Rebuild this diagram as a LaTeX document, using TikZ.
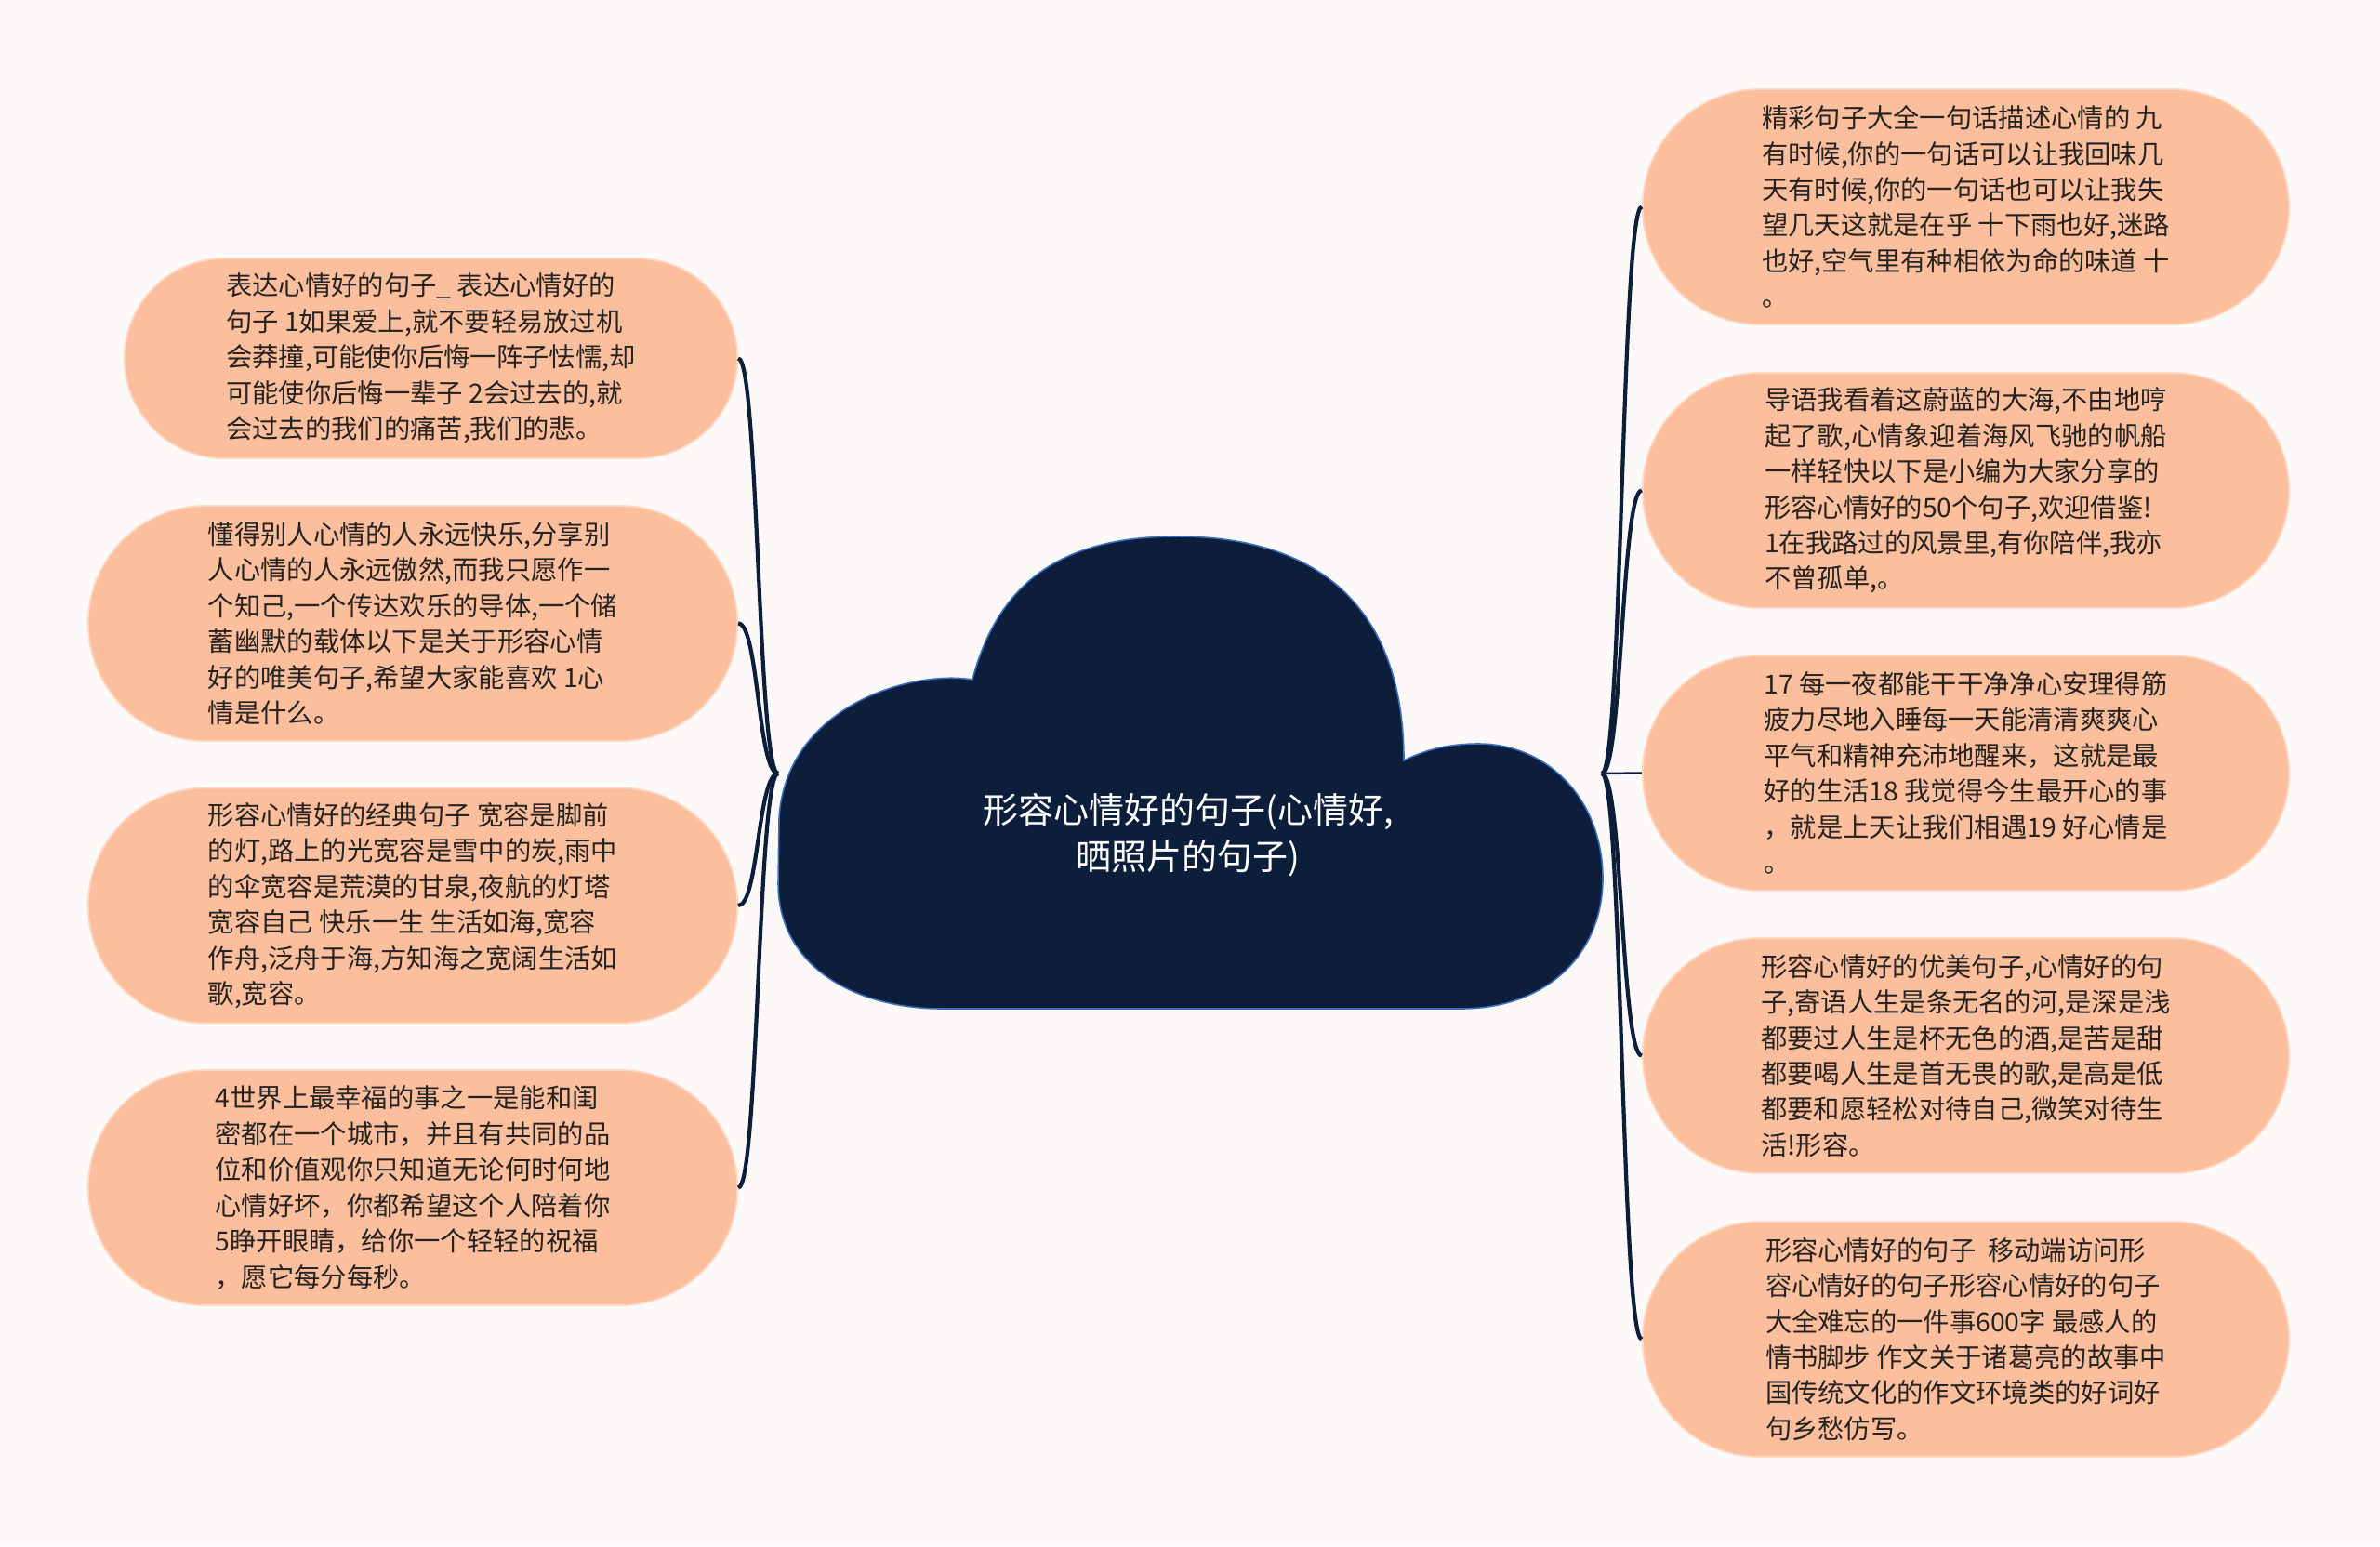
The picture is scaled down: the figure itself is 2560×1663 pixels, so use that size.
\documentclass[tikz,border=0pt]{standalone}
\usepackage{fontspec}
\setmainfont{Noto Sans CJK SC}
\usetikzlibrary{shapes.misc}
\definecolor{bgc}{HTML}{FDF9F8}
\definecolor{peach}{HTML}{FCBF9D}
\definecolor{navy}{HTML}{0C1E3A}
\definecolor{cloudedge}{HTML}{3B6FC0}
\definecolor{txt}{HTML}{262220}
\begin{document}
\begin{tikzpicture}[x=0.01cm,y=-0.01cm,
  leaf/.style={rounded rectangle, fill=peach, draw=peach!60!white, line width=0.5pt,
    inner sep=0pt, align=left, text=txt,
    font=\fontsize{8.05pt}{10.93pt}\selectfont},
  lbox/.style={leaf, minimum width=6.98cm, minimum height=2.53cm},
  rbox/.style={leaf, minimum width=6.95cm, minimum height=2.53cm},
  link/.style={draw=navy, line width=1.2pt},
  ctext/.style={align=center, text=white, font=\fontsize{10.8pt}{14.4pt}\selectfont}]
\fill[bgc] (0,0) rectangle (2560,1663);
\useasboundingbox (0,0) rectangle (2560,1663);

% cloud
\path[fill=navy, draw=cloudedge, line width=0.45pt]
  (1046,731) .. controls (980,720) and (845,760) .. (838,880)
  -- (837,950) .. controls (837,1040) and (920,1085) .. (1014,1085)
  -- (1571,1085) .. controls (1665,1085) and (1724,1025) .. (1724,945)
  .. controls (1724,860) and (1665,800) .. (1590,800)
  .. controls (1555,800) and (1530,808) .. (1510,818)
  .. controls (1510,655) and (1420,577) .. (1266,577)
  .. controls (1150,577) and (1075,620) .. (1046,731) -- cycle;
\node[ctext] (center) at (1278,898) {形容心情好的句子(心情好,\\晒照片的句子)};
\coordinate (rootL) at (837,832);
\coordinate (rootR) at (1723,832);

% left boxes
\node[leaf, minimum width=6.59cm, minimum height=2.15cm] (L1) at (463.5,385.5) {%
表达心情好的句子\_ 表达心情好的\\
句子 1如果爱上,就不要轻易放过机\\
会莽撞,可能使你后悔一阵子怯懦,却\\
可能使你后悔一辈子 2会过去的,就\\
会过去的我们的痛苦,我们的悲。};
\node[lbox] (L2) at (444,670.5) {%
懂得别人心情的人永远快乐,分享别\\
人心情的人永远傲然,而我只愿作一\\
个知己,一个传达欢乐的导体,一个储\\
蓄幽默的载体以下是关于形容心情\\
好的唯美句子,希望大家能喜欢 1心\\
情是什么。};
\node[lbox] (L3) at (444,974) {%
形容心情好的经典句子 宽容是脚前\\
的灯,路上的光宽容是雪中的炭,雨中\\
的伞宽容是荒漠的甘泉,夜航的灯塔\\
宽容自己 快乐一生 生活如海,宽容\\
作舟,泛舟于海,方知海之宽阔生活如\\
歌,宽容。};
\node[lbox] (L4) at (444,1277.5) {%
4世界上最幸福的事之一是能和闺\\
密都在一个城市，并且有共同的品\\
位和价值观你只知道无论何时何地\\
心情好坏，你都希望这个人陪着你\\
5睁开眼睛，给你一个轻轻的祝福\\
，愿它每分每秒。};

% right boxes
\node[rbox] (R1) at (2114.5,222.5) {%
精彩句子大全一句话描述心情的 九\\
有时候,你的一句话可以让我回味几\\
天有时候,你的一句话也可以让我失\\
望几天这就是在乎 十下雨也好,迷路\\
也好,空气里有种相依为命的味道 十\\
。};
\node[rbox] (R2) at (2114.5,527.5) {%
导语我看着这蔚蓝的大海,不由地哼\\
起了歌,心情象迎着海风飞驰的帆船\\
一样轻快以下是小编为大家分享的\\
形容心情好的50个句子,欢迎借鉴!\\
1在我路过的风景里,有你陪伴,我亦\\
不曾孤单,。};
\node[rbox] (R3) at (2114.5,831.5) {%
17 每一夜都能干干净净心安理得筋\\
疲力尽地入睡每一天能清清爽爽心\\
平气和精神充沛地醒来，这就是最\\
好的生活18 我觉得今生最开心的事\\
，就是上天让我们相遇19 好心情是\\
。};
\node[rbox] (R4) at (2114.5,1135.5) {%
形容心情好的优美句子,心情好的句\\
子,寄语人生是条无名的河,是深是浅\\
都要过人生是杯无色的酒,是苦是甜\\
都要喝人生是首无畏的歌,是高是低\\
都要和愿轻松对待自己,微笑对待生\\
活!形容。};
\node[rbox] (R5) at (2114.5,1440.5) {%
形容心情好的句子\ \ 移动端访问形\\
容心情好的句子形容心情好的句子\\
大全难忘的一件事600字 最感人的\\
情书脚步 作文关于诸葛亮的故事中\\
国传统文化的作文环境类的好词好\\
句乡愁仿写。};

% connectors
\foreach \b in {L1,L2,L3,L4}
  \draw[link] (rootL) .. controls +(-22,0) and +(22,0) .. (\b.east);
\foreach \b in {R1,R2,R4,R5}
  \draw[link] (rootR) .. controls +(22,0) and +(-22,0) .. (\b.west);
\draw[link, line width=0.7pt] (rootR) -- (R3.west);
\end{tikzpicture}
\end{document}
